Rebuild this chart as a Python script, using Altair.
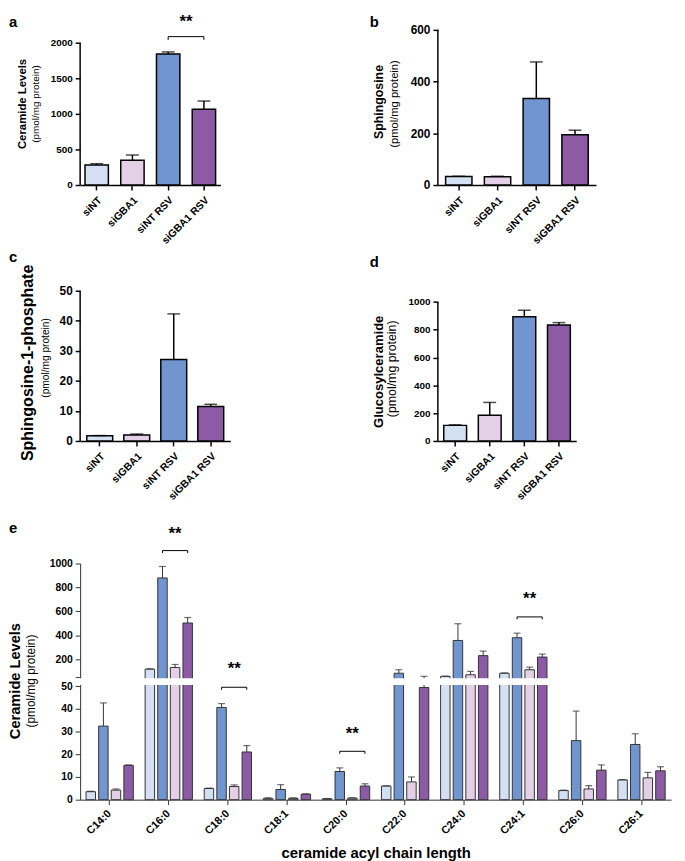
import altair as alt
import pandas as pd

FONT = "Liberation Sans"

# ---------------- panels a-d ----------------
groups = ["siNT", "siGBA1", "siNT RSV", "siGBA1 RSV"]
group_colors = ["#d3dff3", "#e4d0e6", "#7195cf", "#8d5ba6"]

a_mean = [282, 347, 1840, 1065]
a_err = [300, 421, 1870, 1180]
b_mean = [33, 32, 335, 194]
b_err = [34, 34, 476, 212]
c_mean = [1.7, 2.0, 27.1, 11.5]
c_err = [1.8, 2.3, 42.3, 12.2]
d_mean = [112, 185, 893, 834]
d_err = [116, 277, 940, 851]

# significance annotation, panel a (pair, bracket foot/top, star level)
a_sig_pair = ["siNT RSV", "siGBA1 RSV"]
a_sig_bracket = [2040, 2085]
a_sig_star = 2290

# ---------------- panel e ----------------
e_cats = ["C14:0", "C16:0", "C18:0", "C18:1", "C20:0", "C22:0", "C24:0", "C24:1", "C26:0", "C26:1"]
e_groups = ["siNT", "siNT RSV", "siGBA1", "siGBA1 RSV"]
e_colors = ["#d3dff3", "#7195cf", "#e4d0e6", "#8d5ba6"]
e_siNT = [3.5, 116, 4.9, 0.6, 0.4, 6.0, 56, 82, 4.0, 8.7]
e_siNT_err = [3.7, 119, 5.1, 0.8, 0.5, 6.1, 57, 84, 4.2, 8.8]
e_siNT_RSV = [32.4, 879, 40.6, 4.5, 12.4, 82, 356, 379, 26.0, 24.3]
e_siNT_RSV_err = [42.6, 975, 42.3, 6.6, 14.0, 111, 496, 417, 39.0, 29.0]
e_siGBA1 = [4.2, 130, 5.8, 0.6, 0.7, 7.8, 69, 111, 4.7, 9.6]
e_siGBA1_err = [4.7, 155, 6.5, 0.8, 0.8, 10.0, 97, 133, 6.2, 12.0]
e_siGBA1_RSV = [15.1, 502, 21.0, 2.4, 6.0, 49.4, 229, 217, 13.0, 12.7]
e_siGBA1_RSV_err = [15.3, 548, 23.8, 2.6, 7.0, 56, 267, 242, 15.3, 14.5]

e_sig_cats = ["C16:0", "C18:0", "C20:0", "C24:1"]
e_sig_bracket = [1108, 49.5, 21.3, 553]
e_sig_star = [1250, 116, 28.7, 702]

e_top_ticks = [200, 400, 600, 800, 1000]
e_low_ticks = [0, 10, 20, 30, 40, 50]

# broken axis: 0-50 linear, gap, 50-1000 compressed 19x
BREAK = 50
GAP_TOP = 54
COMPRESS = 19


def brk(expr):
    return f"({expr}) <= {BREAK} ? ({expr}) : {GAP_TOP} + (({expr}) - {BREAK}) / {COMPRESS}"


def ytitle(text, size, weight, xo, yo):
    return alt.Chart(pd.DataFrame({"t": [text]})).mark_text(
        angle=270, fontSize=size, fontWeight=weight, font=FONT, color="black",
        align="center", baseline="middle"
    ).encode(text="t:N", x=alt.value(xo), y=alt.value(yo))


def letter_mark(letter, xo, yo):
    return alt.Chart(pd.DataFrame({"t": [letter]})).mark_text(
        fontSize=15, fontWeight="bold", font=FONT, color="black",
        align="left", baseline="alphabetic"
    ).encode(text="t:N", x=alt.value(xo), y=alt.value(yo))


def panel(letter, mean, err, ytop, step, dom_top, width, height, pin, pout,
          t1, t1size, t1x, t1y, t2size, t2x, t2y, ylab, lx, ly, sig=False):
    df = pd.DataFrame({"g": groups, "v": mean, "e": err})
    xs = alt.Scale(domain=groups, paddingInner=pin, paddingOuter=pout)
    ys = alt.Scale(domain=[0, dom_top], nice=False, zero=True)
    xax = alt.Axis(title=None, labelAngle=-45, labelAlign="right", labelBaseline="top",
                   labelFontSize=10.5, labelFontWeight="bold", labelColor="black",
                   labelPadding=5, domainColor="black", domainWidth=1.5,
                   tickColor="black", tickWidth=1.5, tickSize=5)
    yax = alt.Axis(title=None, values=list(range(0, ytop + 1, step)), format="d",
                   domain=False, grid=False, labelFontSize=ylab, labelFontWeight="bold",
                   labelColor="black", tickColor="black", tickWidth=1.5, tickSize=5,
                   labelPadding=3)
    X = alt.X("g:N", scale=xs, axis=xax, sort=groups)

    def Y(f):
        return alt.Y(f, type="quantitative", scale=ys, axis=yax)

    base = alt.Chart(df)
    bars = base.mark_bar(stroke="black", strokeWidth=1.5).encode(
        x=X, y=Y("v"),
        color=alt.Color("g:N", scale=alt.Scale(domain=groups, range=group_colors), legend=None))
    erule = base.mark_rule(color="black", strokeWidth=1.5).encode(x=X, y=Y("v"), y2="e:Q")
    ecap = base.mark_tick(color="black", thickness=1.5, size=13).encode(x=X, y=Y("e"))
    yline = alt.Chart(pd.DataFrame({"z": [0], "t": [ytop]})).mark_rule(
        color="black", strokeWidth=1.5).encode(x=alt.value(0), y=Y("z"), y2="t:Q")
    layers = [bars, erule, ecap, yline,
              ytitle(t1, t1size, "bold", t1x, t1y),
              ytitle("(pmol/mg protein)", t2size, "normal", t2x, t2y),
              letter_mark(letter, lx, ly)]
    if sig:
        bdf = pd.DataFrame({
            "g": [a_sig_pair[0], a_sig_pair[0], a_sig_pair[1], a_sig_pair[1]],
            "y": [a_sig_bracket[0], a_sig_bracket[1], a_sig_bracket[1], a_sig_bracket[0]],
            "o": [0, 1, 2, 3]})
        layers.append(alt.Chart(bdf).mark_line(color="black", strokeWidth=1).encode(
            x=X, y=Y("y"), order="o:O"))
        stepw = width / (4 - pin + 2 * pout)
        layers.append(alt.Chart(pd.DataFrame({"g": [a_sig_pair[0]], "y": [a_sig_star], "s": ["**"]}))
                      .mark_text(fontSize=17, fontWeight="bold", color="black", dx=stepw / 2,
                                 baseline="middle", font=FONT)
                      .encode(x=X, y=Y("y"), text="s:N"))
    return alt.layer(*layers).properties(width=width, height=height)


pa = panel("a", a_mean, a_err, 2000, 500, 2180, 142, 157, 0.346, 0.136,
           "Ceramide Levels", 11.5, -58, 75, 10, -45, 75, 10, -72, -3, sig=True)
pb = panel("b", b_mean, b_err, 600, 200, 600, 160, 157, 0.32, 0.2,
           "Sphingosine", 12.5, -60, 73, 11.3, -43, 75, 12, -69, -3)
pc = panel("c", c_mean, c_err, 50, 10, 50, 152, 152, 0.3, 0.18,
           "Sphingosine-1-phosphate", 16.2, -53, 73, 10.3, -35, 68, 12, -72, -29)
pd_ = panel("d", d_mean, d_err, 1000, 200, 1080, 140, 152, 0.34, 0.17,
            "Glucosylceramide", 13.2, -60, 82, 12.5, -46, 79, 10, -69, -24)

abcd = alt.concat(pa, pb, pc, pd_, columns=2, align="each",
                  spacing={"row": 4, "column": 141})

# ---------------- panel e chart ----------------
EW, EH = 598, 239
vals = {"siNT": (e_siNT, e_siNT_err), "siNT RSV": (e_siNT_RSV, e_siNT_RSV_err),
        "siGBA1": (e_siGBA1, e_siGBA1_err), "siGBA1 RSV": (e_siGBA1_RSV, e_siGBA1_RSV_err)}
rows = []
for g in e_groups:
    m, e = vals[g]
    for i, c in enumerate(e_cats):
        rows.append({"cat": c, "grp": g, "v": m[i], "e": e[i]})
edf = pd.DataFrame(rows)

tick_vals = [float(v) for v in e_low_ticks] + [float(GAP_TOP)] + \
            [GAP_TOP + (v - BREAK) / COMPRESS for v in e_top_ticks]
eys = alt.Scale(domain=[0, 104], nice=False, zero=True)
exs = alt.Scale(domain=e_cats, paddingInner=0.2, paddingOuter=0.1)
eos = alt.Scale(domain=e_groups, paddingInner=0.25, paddingOuter=0)
eyax = alt.Axis(title=None, values=tick_vals, grid=False, zindex=0,
                labelExpr=f"datum.value < 52 ? datum.value : (datum.value < 55 ? '' : round((datum.value - {GAP_TOP}) * {COMPRESS} + {BREAK}))",
                labelFontSize=10.5, labelFontWeight="bold", labelColor="black",
                domainColor="#333", tickColor="#333", tickSize=5, labelPadding=3)
exax = alt.Axis(title="ceramide acyl chain length", titleFontSize=15, titleFontWeight="bold",
                titleColor="black", titlePadding=10, labelAngle=-45, labelAlign="right",
                labelBaseline="middle", labelFontSize=11, labelFontWeight="bold",
                labelColor="black", labelPadding=7, domainColor="#333", tickColor="#333",
                tickSize=5, zindex=0)
EX = alt.X("cat:N", scale=exs, axis=exax, sort=e_cats)
EO = alt.XOffset("grp:N", scale=eos, sort=e_groups)


def EY(f):
    return alt.Y(f, type="quantitative", scale=eys, axis=eyax)


ebase = alt.Chart(edf).transform_calculate(d=brk("datum.v"), de=brk("datum.e"))
ebars = ebase.mark_bar(stroke="#333", strokeWidth=1).encode(
    x=EX, xOffset=EO, y=EY("d"),
    color=alt.Color("grp:N", scale=alt.Scale(domain=e_groups, range=e_colors), legend=None))
erule_e = ebase.mark_rule(color="#333", strokeWidth=1).encode(x=EX, xOffset=EO, y=EY("d"), y2="de:Q")
ecap_e = ebase.mark_tick(color="#333", thickness=1.2, size=7).encode(x=EX, xOffset=EO, y=EY("de"))
gap = alt.Chart(pd.DataFrame({"lo": [50.5], "hi": [53.5]})).mark_rect(color="white").encode(
    x=alt.value(-8), x2=alt.value(EW + 6), y=EY("lo"), y2="hi:Q")

brows = []
for c, b in zip(e_sig_cats, e_sig_bracket):
    for g, foot, o in [("siNT RSV", 1, 0), ("siNT RSV", 0, 1), ("siGBA1 RSV", 0, 2), ("siGBA1 RSV", 1, 3)]:
        brows.append({"cat": c, "grp": g, "b": b, "foot": foot, "o": o})
ebr = alt.Chart(pd.DataFrame(brows)).transform_calculate(
    y=brk("datum.b")).transform_calculate(
    yy="datum.y - datum.foot * 1.1").mark_line(color="black", strokeWidth=1).encode(
    x=EX, xOffset=EO, y=EY("yy"), detail="cat:N", order="o:O")
estar = alt.Chart(pd.DataFrame({"cat": e_sig_cats, "grp": ["siGBA1"] * 4, "s": e_sig_star,
                                "t": ["**"] * 4})).transform_calculate(
    y=brk("datum.s")).mark_text(fontSize=17, fontWeight="bold", color="black",
                                baseline="middle", font=FONT).encode(
    x=EX, xOffset=EO, y=EY("y"), text="t:N")

pe = alt.layer(ebars, erule_e, ecap_e, gap, ebr, estar,
               ytitle("Ceramide Levels", 14.8, "bold", -65, 119),
               ytitle("(pmol/mg protein)", 12, "normal", -50, 119),
               letter_mark("e", -72, -31)).properties(width=EW, height=EH)

ewrap = alt.VConcatChart(vconcat=[pe])

chart = alt.vconcat(abcd, ewrap, spacing=19).properties(
    padding=0, background="white"
).configure_view(stroke=None).configure_axis(labelFont=FONT, titleFont=FONT).configure_text(font=FONT)

chart.save("out.html", embed_options={"renderer": "svg", "actions": False})
